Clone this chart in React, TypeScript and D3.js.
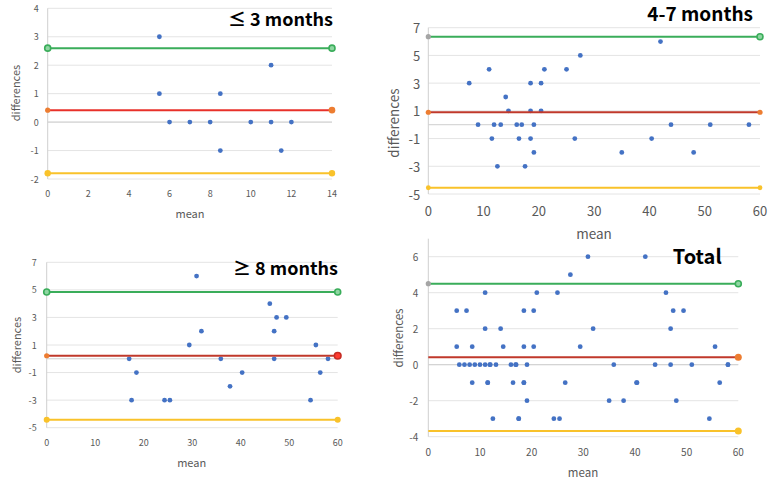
import React from "react";
import * as d3 from "d3";

// ---------- DATA ----------
// ≤ 3 months
const p1Mean = [5.5, 5.5, 6, 7, 8, 8.5, 8.5, 10, 11, 11, 11.5, 12];
const p1Diff = [3, 1, 0, 0, 0, 1, -1, 0, 2, 0, -1, 0];
const p1Limits = [2.6, 0.42, -1.8]; // upper LoA, bias, lower LoA

// 4-7 months
const p2Mean = [7.4, 9, 11, 11.5, 11.9, 12.5, 13.1, 14, 14.5, 16, 16.4, 16.9, 17.5, 18.5, 18.5, 18.5, 19.1, 19.1, 20.4, 20.4, 21, 25, 26.5, 27.5, 35, 40.4, 42, 43.9, 48, 51, 58];
const p2Diff = [3, 0, 4, -1, 0, -3, 0, 2, 1, 0, -1, 0, -3, 3, 1, -1, 0, -2, 3, 1, 4, 4, -1, 5, -2, -1, 6, 0, -2, 0, 0];
const p2Limits = [6.35, 0.9, -4.55];

// ≥ 8 months
const p3Mean = [17, 17.5, 18.5, 24.3, 25.4, 29.4, 30.9, 31.9, 35.9, 37.8, 40.3, 46, 46.9, 46.9, 47.4, 49.4, 54.4, 55.5, 56.4, 58];
const p3Diff = [0, -3, -1, -3, -3, 1, 6, 2, 0, -2, -1, 4, 0, 2, 3, 3, -3, 1, -1, 0];
const p3Limits = [4.85, 0.22, -4.42];

// Total (all groups)
const p4Mean = [...p1Mean, ...p2Mean, ...p3Mean];
const p4Diff = [...p1Diff, ...p2Diff, ...p3Diff];
const p4Limits = [4.5, 0.42, -3.68];

// tick labels
const p1XTicks = [0, 2, 4, 6, 8, 10, 12, 14];
const p1YTicks = [-2, -1, 0, 1, 2, 3, 4];
const p2XTicks = [0, 10, 20, 30, 40, 50, 60];
const p2YTicks = [-5, -3, -1, 1, 3, 5, 7];
const p3XTicks = [0, 10, 20, 30, 40, 50, 60];
const p3YTicks = [-5, -3, -1, 1, 3, 5, 7];
const p4XTicks = [0, 10, 20, 30, 40, 50, 60];
const p4YTicks = [-4, -2, 0, 2, 4, 6];

// ---------- STYLE ----------
const FONT = "'Noto Sans CJK KR', 'Noto Sans', sans-serif";
const BLUE = "#4472c4";
const GREEN = "#3aad5a";
const GREEN_FILL = "#8fd6a2";
const ORANGE = "#ed7d31";
const YELLOW = "#f9c22a";
const GRAY = "#a5a5a5";
const RED1 = "#e8312a";
const RED2 = "#c0392b";
const GRID = "#e4e4e4";
const AXIS = "#cfcfcf";
const TEXT = "#595959";

type Mk = { kind: "none" | "dot" | "ring"; color?: string; fill?: string; r?: number };
const none: Mk = { kind: "none" };

type PanelCfg = {
  title: string;
  mean: number[];
  diff: number[];
  limits: number[];
  xDomain: [number, number];
  yDomain: [number, number];
  xTicks: number[];
  yTicks: number[];
  left: number; right: number; top: number; bottom: number;
  xTickY: number; yTickGap: number; tickFont: number;
  meanX: number; meanY: number; diffX: number; diffY: number; labelFont: number;
  titleX: number; titleY: number; titleFont: number;
  biasColor: string;
  markers: [Mk, Mk][];
};

const ring = (r = 3): Mk => ({ kind: "ring", color: GREEN, fill: GREEN_FILL, r });
const dot = (color: string, r = 2.6): Mk => ({ kind: "dot", color, r });

const panels: PanelCfg[] = [
  {
    title: "≤ 3 months", mean: p1Mean, diff: p1Diff, limits: p1Limits,
    xDomain: [0, 14], yDomain: [-2, 4], xTicks: p1XTicks, yTicks: p1YTicks,
    left: 47.7, right: 332, top: 8.3, bottom: 179,
    xTickY: 193.5, yTickGap: 9, tickFont: 9,
    meanX: 190, meanY: 213, diffX: 15, diffY: 93, labelFont: 11,
    titleX: 333, titleY: 26, titleFont: 18,
    biasColor: RED1,
    markers: [[ring(), ring()], [dot(ORANGE, 2.6), dot(ORANGE, 3.3)], [dot(YELLOW, 3.2), dot(YELLOW, 3.2)]],
  },
  {
    title: "4-7 months", mean: p2Mean, diff: p2Diff, limits: p2Limits,
    xDomain: [0, 60], yDomain: [-5, 7], xTicks: p2XTicks, yTicks: p2YTicks,
    left: 428.3, right: 760, top: 27.7, bottom: 194,
    xTickY: 210.7, yTickGap: 8, tickFont: 13,
    meanX: 594, meanY: 233, diffX: 393, diffY: 123, labelFont: 13.5,
    titleX: 753, titleY: 21, titleFont: 19,
    biasColor: RED2,
    markers: [[dot(GRAY, 2.6), ring()], [dot(ORANGE, 2.6), dot(ORANGE, 2.6)], [dot(YELLOW, 2.4), dot(YELLOW, 2.4)]],
  },
  {
    title: "≥ 8 months", mean: p3Mean, diff: p3Diff, limits: p3Limits,
    xDomain: [0, 60], yDomain: [-5, 7], xTicks: p3XTicks, yTicks: p3YTicks,
    left: 46.7, right: 337.7, top: 262.3, bottom: 427.7,
    xTickY: 442, yTickGap: 10, tickFont: 9,
    meanX: 191.7, meanY: 461.7, diffX: 16, diffY: 345, labelFont: 11,
    titleX: 338, titleY: 274.5, titleFont: 18,
    biasColor: RED2,
    markers: [[ring(), ring()], [dot(ORANGE, 2.6), { kind: "ring", color: "#c62b22", fill: "#ff3b2f", r: 3.3 }], [dot(YELLOW, 3), dot(YELLOW, 3)]],
  },
  {
    title: "Total", mean: p4Mean, diff: p4Diff, limits: p4Limits,
    xDomain: [0, 60], yDomain: [-4, 7], xTicks: p4XTicks, yTicks: p4YTicks,
    left: 428.3, right: 738.3, top: 238.7, bottom: 436.7,
    xTickY: 451.7, yTickGap: 10, tickFont: 10,
    meanX: 583, meanY: 471.7, diffX: 398, diffY: 338, labelFont: 11.5,
    titleX: 721.7, titleY: 264, titleFont: 20,
    biasColor: RED2,
    markers: [[dot(GRAY, 2.6), ring()], [none, dot(ORANGE, 3.5)], [none, dot(YELLOW, 3.5)]],
  },
];

function Marker({ m, cx, cy }: { m: Mk; cx: number; cy: number }) {
  if (m.kind === "none") return null;
  if (m.kind === "dot") return <circle cx={cx} cy={cy} r={m.r} fill={m.color} />;
  return <circle cx={cx} cy={cy} r={m.r} fill={m.fill} stroke={m.color} strokeWidth={1.6} />;
}

function Panel({ c }: { c: PanelCfg }) {
  const x = d3.scaleLinear().domain(c.xDomain).range([c.left, c.right]);
  const y = d3.scaleLinear().domain(c.yDomain).range([c.bottom, c.top]);
  const lineColors = [GREEN, c.biasColor, YELLOW];
  return (
    <g>
      {c.yTicks.map((t) => (
        <line key={"g" + t} x1={c.left} x2={c.right} y1={y(t)} y2={y(t)} stroke={GRID} strokeWidth={1} />
      ))}
      <line x1={c.left} x2={c.right} y1={y(0)} y2={y(0)} stroke={AXIS} strokeWidth={1} />
      <line x1={c.left} x2={c.left} y1={c.top} y2={c.bottom} stroke={AXIS} strokeWidth={1} />
      {c.yTicks.map((t) => (
        <text key={"yt" + t} x={c.left - c.yTickGap} y={y(t)} textAnchor="end" dominantBaseline="central"
          fontSize={c.tickFont} fill={TEXT} fontFamily={FONT}>{t}</text>
      ))}
      {c.xTicks.map((t) => (
        <text key={"xt" + t} x={x(t)} y={c.xTickY} textAnchor="middle" dominantBaseline="central"
          fontSize={c.tickFont} fill={TEXT} fontFamily={FONT}>{t}</text>
      ))}
      <text x={c.meanX} y={c.meanY} textAnchor="middle" dominantBaseline="central" fontSize={c.labelFont}
        fill={TEXT} fontFamily={FONT}>mean</text>
      <text transform={`translate(${c.diffX},${c.diffY}) rotate(-90)`} textAnchor="middle" dominantBaseline="central"
        fontSize={c.labelFont} fill={TEXT} fontFamily={FONT}>differences</text>
      {c.mean.map((m, i) => (
        <circle key={"p" + i} cx={x(m)} cy={y(c.diff[i])} r={2.4} fill={BLUE} />
      ))}
      {c.limits.map((v, i) => (
        <g key={"l" + i}>
          <line x1={x(c.xDomain[0])} x2={x(c.xDomain[1])} y1={y(v)} y2={y(v)} stroke={lineColors[i]} strokeWidth={2} />
          <Marker m={c.markers[i][0]} cx={x(c.xDomain[0])} cy={y(v)} />
          <Marker m={c.markers[i][1]} cx={x(c.xDomain[1])} cy={y(v)} />
        </g>
      ))}
      <text x={c.titleX} y={c.titleY} textAnchor="end" fontSize={c.titleFont} fontWeight={700}
        fill="#000" fontFamily={FONT}>{c.title}</text>
    </g>
  );
}

export default function App() {
  return (
    <svg width={771} height={482} viewBox="0 0 771 482"
      style={{ position: "fixed", left: 0, top: 0, background: "#fff" }}>
      <rect width={771} height={482} fill="#fff" />
      {panels.map((c, i) => <Panel key={i} c={c} />)}
    </svg>
  );
}
